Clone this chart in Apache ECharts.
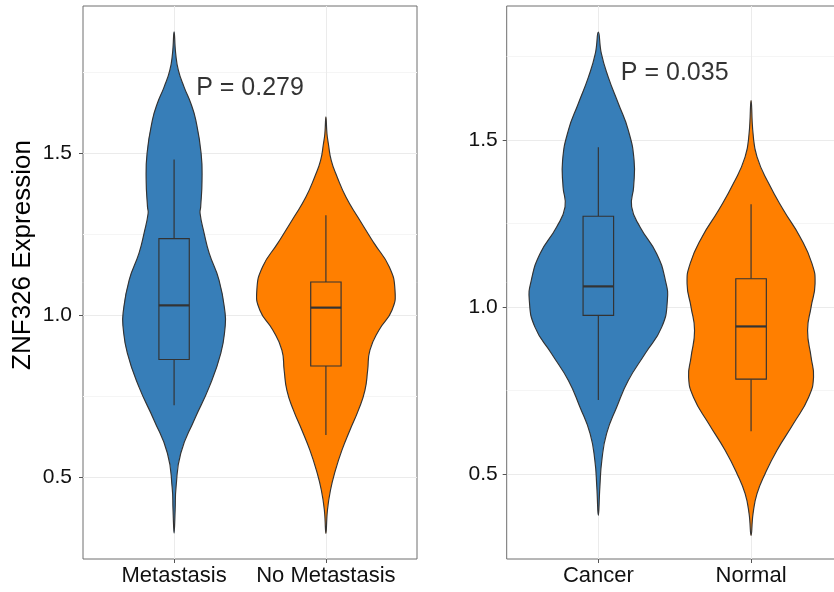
<!DOCTYPE html>
<html><head><meta charset="utf-8">
<script src="https://cdn.jsdelivr.net/npm/echarts@6/dist/echarts.min.js"></script>
<style>html,body{margin:0;padding:0;background:#fff;} #c{width:834px;height:592px;}</style>
</head><body><div id="c"></div>
<script>
// ---------- data ----------
const leftCategories = ["Metastasis", "No Metastasis"];
const rightCategories = ["Cancer", "Normal"];
const yTickValues = [0.5, 1.0, 1.5];
const yMinorValues = [0.75, 1.25, 1.75];
const yTitle = "ZNF326 Expression";
const pValueLabels = ["P = 0.279", "P = 0.035"];
const pValuePos = [1.5, 1.7];

// violin outlines: expression values and half-widths (in x-axis category units)
const metastasisY = [1.874, 1.810, 1.756, 1.704, 1.654, 1.602, 1.500, 1.417, 1.334, 1.315, 1.253, 1.192, 1.109, 1.007, 0.964, 0.884, 0.779, 0.677, 0.575, 0.471, 0.400, 0.329];
const metastasisW = [0, 0.010, 0.028, 0.066, 0.110, 0.143, 0.178, 0.184, 0.175, 0.171, 0.198, 0.231, 0.296, 0.336, 0.336, 0.308, 0.231, 0.132, 0.044, 0.013, 0.007, 0];
const noMetastasisY = [1.612, 1.560, 1.530, 1.478, 1.427, 1.365, 1.304, 1.222, 1.150, 1.078, 1.016, 0.954, 0.893, 0.831, 0.769, 0.708, 0.646, 0.584, 0.523, 0.461, 0.399, 0.328];
const noMetastasisW = [0, 0.007, 0.016, 0.035, 0.074, 0.132, 0.209, 0.318, 0.417, 0.455, 0.435, 0.349, 0.290, 0.275, 0.257, 0.214, 0.158, 0.105, 0.063, 0.030, 0.010, 0];
const cancerY = [1.824, 1.759, 1.689, 1.610, 1.530, 1.440, 1.360, 1.300, 1.240, 1.160, 1.080, 1.020, 0.940, 0.860, 0.780, 0.700, 0.621, 0.541, 0.461, 0.376];
const cancerW = [0, 0.020, 0.065, 0.131, 0.196, 0.234, 0.231, 0.218, 0.273, 0.382, 0.439, 0.452, 0.415, 0.306, 0.196, 0.120, 0.054, 0.023, 0.010, 0];
const normalY = [1.619, 1.520, 1.450, 1.370, 1.290, 1.210, 1.130, 1.070, 1.000, 0.930, 0.850, 0.790, 0.730, 0.651, 0.571, 0.501, 0.441, 0.381, 0.316];
const normalW = [0, 0.013, 0.039, 0.116, 0.213, 0.321, 0.399, 0.419, 0.393, 0.370, 0.393, 0.409, 0.377, 0.278, 0.170, 0.092, 0.039, 0.013, 0];

// boxplot stats: [lower whisker, Q1, median, Q3, upper whisker]
const metastasisBox = [0.723, 0.864, 1.031, 1.237, 1.481];
const noMetastasisBox = [0.631, 0.844, 1.024, 1.103, 1.309];
const cancerBox = [0.722, 0.975, 1.062, 1.272, 1.479];
const normalBox = [0.628, 0.784, 0.942, 1.085, 1.308];

// ---------- styles ----------
const BLUE = '#377EB8', ORANGE = '#FF7F00', OUTLINE = '#333333';
const FONT = '"Liberation Sans", Arial, sans-serif';

function violin(xIdx, yIdx, pos, ys, ws, color) {
  return {
    type: 'custom', xAxisIndex: xIdx, yAxisIndex: yIdx, z: 2,
    data: [[pos, ys[0]]],
    renderItem: function (params, api) {
      const right = [], left = [];
      for (let i = 0; i < ys.length; i++) {
        right.push(api.coord([pos + ws[i], ys[i]]));
        left.push(api.coord([pos - ws[i], ys[i]]));
      }
      const pts = right.concat(left.reverse().slice(1, -1));
      return {
        type: 'polygon',
        shape: { points: pts, smooth: 0.5 },
        style: { fill: color, stroke: OUTLINE, lineWidth: 1.15 }
      };
    }
  };
}

function box(xIdx, yIdx, pos, stats, color) {
  return {
    type: 'custom', xAxisIndex: xIdx, yAxisIndex: yIdx, z: 3,
    data: [[pos].concat(stats)],
    renderItem: function (params, api) {
      const x = api.value(0);
      const lo = api.value(1), q1 = api.value(2), med = api.value(3), q3 = api.value(4), hi = api.value(5);
      const hw = 0.1;
      const pHi = api.coord([x, hi]), pQ3 = api.coord([x, q3]);
      const pQ1 = api.coord([x, q1]), pLo = api.coord([x, lo]);
      const tl = api.coord([x - hw, q3]), br = api.coord([x + hw, q1]);
      const mL = api.coord([x - hw, med]), mR = api.coord([x + hw, med]);
      const ls = { stroke: OUTLINE, lineWidth: 1.15 };
      return {
        type: 'group',
        children: [
          { type: 'line', shape: { x1: pHi[0], y1: pHi[1], x2: pQ3[0], y2: pQ3[1] }, style: ls },
          { type: 'line', shape: { x1: pQ1[0], y1: pQ1[1], x2: pLo[0], y2: pLo[1] }, style: ls },
          { type: 'rect', shape: { x: tl[0], y: tl[1], width: br[0] - tl[0], height: br[1] - tl[1] },
            style: { fill: color, stroke: OUTLINE, lineWidth: 1.15 } },
          { type: 'line', shape: { x1: mL[0], y1: mL[1], x2: mR[0], y2: mR[1] }, style: { stroke: OUTLINE, lineWidth: 2.2 } }
        ]
      };
    }
  };
}

function pLabel(xIdx, yIdx, text) {
  return {
    type: 'scatter', xAxisIndex: xIdx, yAxisIndex: yIdx, z: 5, symbolSize: 0,
    data: [pValuePos],
    label: { show: true, position: 'inside', formatter: text, color: '#000', fontSize: 25, fontFamily: FONT },
    silent: true
  };
}

function xAxis(gridIndex, cats) {
  return {
    type: 'value', gridIndex: gridIndex, min: 0.4, max: 2.6,
    axisLine: { show: false },
    axisTick: { show: true, length: 4, customValues: [1, 2], lineStyle: { color: '#555', width: 1 } },
    axisLabel: { show: true, customValues: [1, 2], margin: 6, color: '#111', fontSize: 22, fontFamily: FONT,
      formatter: function (v) { return cats[Math.round(v) - 1]; } },
    splitLine: { show: true, lineStyle: { color: '#EBEBEB', width: 1 } }
  };
}

function yAxes(gridIndex, min, max, margin) {
  return [{
    type: 'value', gridIndex: gridIndex, min: min, max: max, position: 'left',
    axisLine: { show: false },
    axisTick: { show: true, length: 4, customValues: yTickValues, lineStyle: { color: '#555', width: 1 } },
    axisLabel: { show: true, customValues: yTickValues, margin: margin, color: '#111', fontSize: 21, fontFamily: FONT,
      formatter: function (v) { return v.toFixed(1); } },
    splitLine: { show: true, lineStyle: { color: '#EBEBEB', width: 1 } }
  }, {
    type: 'value', gridIndex: gridIndex, min: min, max: max, position: 'right',
    axisLine: { show: false },
    axisTick: { show: false, customValues: yMinorValues },
    axisLabel: { show: false },
    splitLine: { show: true, lineStyle: { color: '#F5F5F5', width: 1 } }
  }];
}

const chart = echarts.init(document.getElementById('c'), null, { renderer: 'canvas' });
chart.setOption({
  animation: false,
  backgroundColor: '#fff',
  grid: [
    { left: 83, top: 6, width: 334, height: 553, show: true, borderColor: '#6e6e6e', borderWidth: 1, backgroundColor: '#fff', containLabel: false, outerBoundsMode: 'none' },
    { left: 506.7, top: 6, width: 336, height: 553, show: true, borderColor: '#6e6e6e', borderWidth: 1, backgroundColor: '#fff', containLabel: false, outerBoundsMode: 'none' }
  ],
  xAxis: [xAxis(0, leftCategories), xAxis(1, rightCategories)],
  yAxis: yAxes(0, 0.249, 1.954, 11).concat(yAxes(1, 0.2453, 1.902, 9)),
  graphic: [{
    type: 'text', x: 23, y: 255, rotation: Math.PI / 2,
    style: { text: yTitle, fontSize: 26, fontFamily: FONT, fill: '#000', align: 'center', verticalAlign: 'middle' }
  }],
  series: [
    violin(0, 0, 1, metastasisY, metastasisW, BLUE),
    violin(0, 0, 2, noMetastasisY, noMetastasisW, ORANGE),
    box(0, 0, 1, metastasisBox, BLUE),
    box(0, 0, 2, noMetastasisBox, ORANGE),
    pLabel(0, 0, pValueLabels[0]),
    violin(1, 2, 1, cancerY, cancerW, BLUE),
    violin(1, 2, 2, normalY, normalW, ORANGE),
    box(1, 2, 1, cancerBox, BLUE),
    box(1, 2, 2, normalBox, ORANGE),
    pLabel(1, 2, pValueLabels[1])
  ]
});
</script></body></html>
